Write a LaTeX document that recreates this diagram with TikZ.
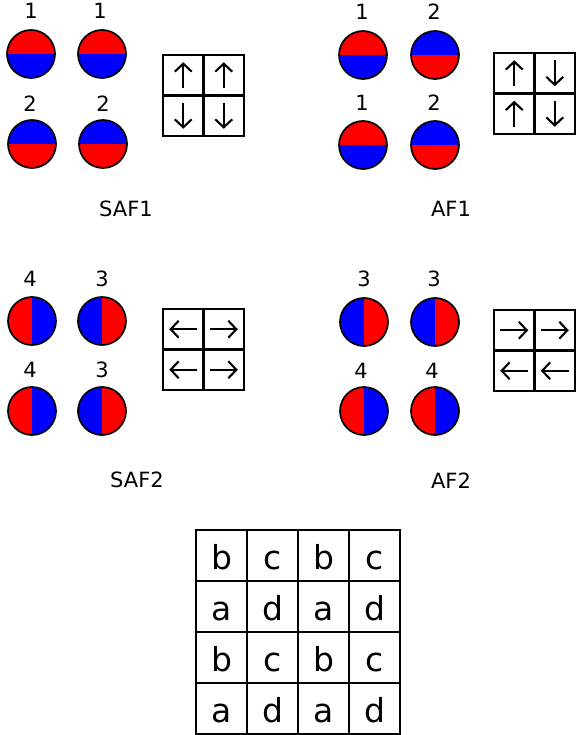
\documentclass[tikz,border=0pt]{standalone}
\usepackage{fontspec}
\setmainfont{DejaVu Sans}
\usetikzlibrary{arrows.meta}
\begin{document}
\begin{tikzpicture}[x=1pt,y=-1pt,
  mag/.style={circle,draw=black,line width=1.7pt,minimum size=48pt,inner sep=0pt},
  tr/.style={mag,path picture={\fill[red] (path picture bounding box.north west) rectangle (path picture bounding box.east);
      \fill[blue] (path picture bounding box.west) rectangle (path picture bounding box.south east);}},
  tb/.style={mag,path picture={\fill[blue] (path picture bounding box.north west) rectangle (path picture bounding box.east);
      \fill[red] (path picture bounding box.west) rectangle (path picture bounding box.south east);}},
  lr/.style={mag,path picture={\fill[red] (path picture bounding box.north west) rectangle (path picture bounding box.south);
      \fill[blue] (path picture bounding box.north) rectangle (path picture bounding box.south east);}},
  lb/.style={mag,path picture={\fill[blue] (path picture bounding box.north west) rectangle (path picture bounding box.south);
      \fill[red] (path picture bounding box.north) rectangle (path picture bounding box.south east);}},
  lab/.style={font=\fontsize{21}{24}\selectfont,anchor=base,inner sep=0pt},
  cell/.style={draw=black,line width=2.2pt,minimum size=40.5pt,inner sep=0pt},
  bigcell/.style={draw=black,line width=2.2pt,minimum size=51pt,inner sep=0pt},
  letter/.style={font=\fontsize{33}{36}\selectfont,anchor=base,inner sep=0pt},
  arr/.style={line width=2.1pt,-{Straight Barb[length=8pt,width=17pt]}}
]
\useasboundingbox (0,0) rectangle (575,735);

% magnets
\node[tr] (s1a) at (31,54) {};
\node[tr] (s1b) at (102,54) {};
\node[tb] (s1c) at (32,144) {};
\node[tb] (s1d) at (103,144) {};
\node[tr] (a1a) at (363,55) {};
\node[tb] (a1b) at (435,55) {};
\node[tr] (a1c) at (363,145) {};
\node[tb] (a1d) at (435,145) {};
\node[lr] (s2a) at (32,321) {};
\node[lb] (s2b) at (102,321) {};
\node[lr] (s2c) at (32,411) {};
\node[lb] (s2d) at (102,411) {};
\node[lb] (a2a) at (364,322) {};
\node[lb] (a2b) at (435,322) {};
\node[lr] (a2c) at (364,411) {};
\node[lr] (a2d) at (435,411) {};

% numbers
\node[lab] (n1) at (31,19) {1};
\node[lab] (n2) at (100,19) {1};
\node[lab] (n3) at (30,112) {2};
\node[lab] (n4) at (103,112) {2};
\node[lab] (n5) at (362,20) {1};
\node[lab] (n6) at (434,20) {2};
\node[lab] (n7) at (362,111) {1};
\node[lab] (n8) at (434,111) {2};
\node[lab] (n9) at (30,286) {4};
\node[lab] (n10) at (102,286) {3};
\node[lab] (n11) at (30,377) {4};
\node[lab] (n12) at (102,377) {3};
\node[lab] (n13) at (364,286) {3};
\node[lab] (n14) at (434,286) {3};
\node[lab] (n15) at (361,378) {4};
\node[lab] (n16) at (432,378) {4};

% titles
\node[lab] (t1) at (126,217) {SAF1};
\node[lab] (t2) at (451,217) {AF1};
\node[lab] (t3) at (137,487) {SAF2};
\node[lab] (t4) at (451,488) {AF2};

% small grids
\foreach \n/\x/\y in {saf1/163/55, af1/494/53, saf2/163/309, af2/494/310}{
  \foreach \r in {1,2}{
    \foreach \c in {1,2}{
      \node[cell] (\n-\r\c) at ({\x+20.25+40.5*(\c-1)},{\y+20.25+40.5*(\r-1)}) {};
    }
  }
}
\foreach \n/\sx/\sy/\ex/\ey in {
  saf1-11/0/13/0/-13, saf1-12/0/13/0/-13, saf1-21/0/-13/0/13, saf1-22/0/-13/0/13,
  af1-11/0/13/0/-13, af1-12/0/-13/0/13, af1-21/0/13/0/-13, af1-22/0/-13/0/13,
  saf2-11/14/0/-14/0, saf2-12/-14/0/14/0, saf2-21/14/0/-14/0, saf2-22/-14/0/14/0,
  af2-11/-14/0/14/0, af2-12/-14/0/14/0, af2-21/14/0/-14/0, af2-22/14/0/-14/0}{
  \draw[arr] ([shift={(\sx,\sy)}]\n.center) -- ([shift={(\ex,\ey)}]\n.center);
}

% big grid
\foreach [count=\r] \row in {{b,c,b,c},{a,d,a,d},{b,c,b,c},{a,d,a,d}}{
  \foreach [count=\c] \t in \row {
    \node[bigcell] (g\r\c) at ({196+25.5+51*(\c-1)},{530+25.5+51*(\r-1)}) {};
    \node[letter] (l\r\c) at ([yshift=-14pt]g\r\c.center) {\t};
  }
}
\end{tikzpicture}
\end{document}
